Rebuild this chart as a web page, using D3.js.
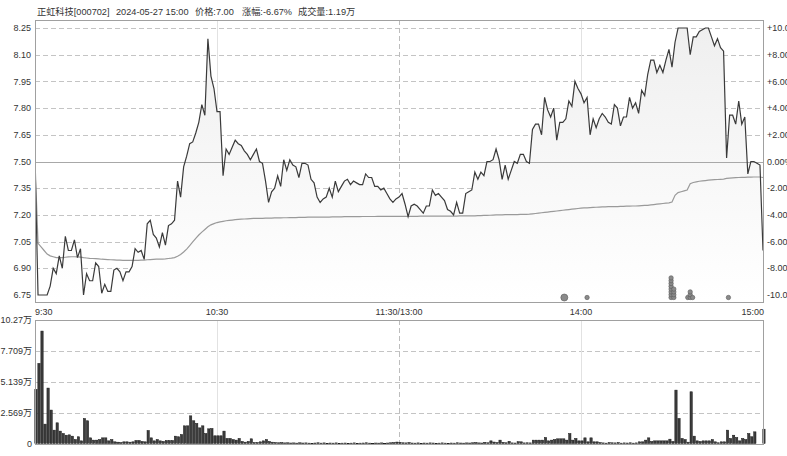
<!DOCTYPE html>
<html><head><meta charset="utf-8">
<script src="https://cdn.jsdelivr.net/npm/d3@7"></script>
<style>
body{margin:0;background:#fff}
svg{display:block}
text{font-family:"Liberation Sans",Arial,"Noto Sans CJK SC",sans-serif;font-size:9px;fill:#333}
text.title{font-size:9.2px}
</style>
</head><body><svg id="c" width="787" height="456"></svg>
<script>
const titleParts = ["正虹科技[000702]", "2024-05-27 15:00", "价格:7.00", "涨幅:-6.67%", "成交量:1.19万"];
const timeIdx = [0, 60, 120, 180, 240];
const timeLabels = ["9:30", "10:30", "11:30/13:00", "14:00", "15:00"];
const preClose = 7.50;
const priceTicks = [8.25, 8.10, 7.95, 7.80, 7.65, 7.50, 7.35, 7.20, 7.05, 6.90, 6.75];
const priceTickLabels = ["8.25", "8.10", "7.95", "7.80", "7.65", "7.50", "7.35", "7.20", "7.05", "6.90", "6.75"];
const pctTickLabels = ["+10.00%", "+8.00%", "+6.00%", "+4.00%", "+2.00%", "0.00%", "-2.00%", "-4.00%", "-6.00%", "-8.00%", "-10.00%"];
const volTicks = [0, 2.569, 5.139, 7.709, 10.27];
const volTickLabels = ["0", "2.569万", "5.139万", "7.709万", "10.27万"];

const price = [
7.50,6.75,6.75,6.75,6.75,6.80,6.90,6.87,6.97,6.90,
7.08,7.00,7.00,7.06,6.96,7.01,6.75,6.87,6.83,6.83,
6.93,6.91,6.76,6.81,6.77,6.77,6.89,6.90,6.88,6.83,
6.88,6.88,6.91,7.01,6.99,7.00,6.95,7.15,7.17,7.09,
7.07,7.02,7.10,7.03,7.14,7.15,7.17,7.39,7.30,7.47,
7.53,7.60,7.61,7.66,7.72,7.82,7.76,8.19,7.98,7.91,
7.78,7.78,7.42,7.57,7.54,7.58,7.62,7.60,7.59,7.56,
7.54,7.51,7.54,7.57,7.50,7.49,7.39,7.27,7.33,7.35,
7.42,7.36,7.51,7.45,7.51,7.48,7.47,7.41,7.49,7.49,
7.48,7.40,7.38,7.30,7.27,7.29,7.30,7.35,7.30,7.39,
7.33,7.36,7.39,7.40,7.37,7.39,7.38,7.37,7.37,7.43,
7.41,7.41,7.36,7.36,7.34,7.35,7.32,7.29,7.27,7.29,
7.30,7.32,7.26,7.19,7.25,7.26,7.25,7.23,7.21,7.25,
7.25,7.34,7.31,7.32,7.30,7.28,7.23,7.22,7.20,7.27,
7.21,7.21,7.32,7.33,7.34,7.44,7.40,7.44,7.42,7.50,
7.50,7.51,7.57,7.51,7.40,7.48,7.40,7.45,7.50,7.49,
7.54,7.54,7.50,7.49,7.68,7.71,7.71,7.65,7.86,7.79,
7.75,7.80,7.62,7.72,7.72,7.74,7.84,7.81,7.95,7.91,
7.88,7.83,7.86,7.65,7.74,7.69,7.74,7.77,7.75,7.72,
7.71,7.82,7.80,7.70,7.75,7.75,7.86,7.80,7.83,7.77,
7.90,7.87,7.99,8.07,8.07,8.00,8.04,8.00,8.07,8.13,
8.03,8.17,8.25,8.25,8.25,8.25,8.10,8.20,8.20,8.23,
8.24,8.25,8.25,8.20,8.15,8.19,8.14,8.12,7.52,7.76,
7.76,7.71,7.84,7.71,7.75,7.43,7.50,7.50,7.49,7.48,
7.00];

const avgPrice = [
7.50,7.04,7.02,7.00,6.98,6.97,6.965,6.96,6.96,6.96,
6.962,6.964,6.965,6.965,6.964,6.963,6.96,6.958,6.956,6.955,
6.954,6.953,6.951,6.95,6.949,6.948,6.947,6.946,6.946,6.945,
6.945,6.945,6.945,6.945,6.945,6.946,6.946,6.948,6.949,6.95,
6.951,6.951,6.952,6.953,6.955,6.957,6.96,6.968,6.978,6.992,
7.008,7.028,7.048,7.068,7.087,7.103,7.118,7.133,7.144,7.151,
7.157,7.161,7.164,7.167,7.169,7.171,7.173,7.175,7.176,7.177,
7.178,7.179,7.18,7.18,7.181,7.181,7.182,7.182,7.182,7.183,
7.183,7.183,7.184,7.184,7.185,7.185,7.185,7.186,7.186,7.186,
7.187,7.187,7.187,7.188,7.188,7.188,7.188,7.188,7.189,7.189,
7.189,7.189,7.19,7.19,7.19,7.19,7.19,7.19,7.191,7.191,
7.191,7.191,7.191,7.192,7.192,7.192,7.192,7.192,7.192,7.192,
7.192,7.192,7.192,7.192,7.192,7.192,7.192,7.193,7.193,7.193,
7.193,7.193,7.193,7.193,7.193,7.193,7.193,7.193,7.193,7.193,
7.194,7.194,7.194,7.195,7.195,7.195,7.196,7.196,7.197,7.197,
7.198,7.199,7.20,7.20,7.20,7.201,7.201,7.201,7.202,7.202,
7.203,7.203,7.203,7.204,7.206,7.208,7.21,7.212,7.214,7.216,
7.218,7.22,7.222,7.224,7.226,7.228,7.23,7.232,7.234,7.236,
7.238,7.239,7.24,7.241,7.242,7.243,7.244,7.245,7.245,7.246,
7.246,7.247,7.247,7.248,7.248,7.249,7.249,7.25,7.25,7.251,
7.252,7.253,7.254,7.256,7.258,7.26,7.262,7.264,7.266,7.268,
7.272,7.31,7.325,7.33,7.335,7.34,7.375,7.382,7.386,7.389,
7.391,7.393,7.395,7.397,7.398,7.399,7.40,7.401,7.405,7.407,
7.408,7.409,7.41,7.411,7.411,7.412,7.412,7.413,7.413,7.413,
7.41];

const volume = [
4.50,6.66,9.35,1.61,4.61,2.78,1.11,1.72,1.03,0.83,
0.69,0.72,0.61,0.33,0.56,0.22,2.08,1.89,0.47,0.28,
0.28,0.33,0.47,0.47,0.22,0.33,0.14,0.11,0.08,0.14,
0.14,0.11,0.14,0.25,0.25,0.17,0.14,1.08,0.47,0.22,
0.33,0.22,0.17,0.25,0.25,0.25,0.61,0.56,0.75,1.47,
1.47,2.30,1.89,1.67,1.30,1.47,0.83,1.22,1.25,0.64,
0.64,0.64,1.03,0.42,0.42,0.33,0.28,0.42,0.17,0.11,
0.17,0.39,0.08,0.08,0.14,0.22,0.33,0.17,0.11,0.08,
0.06,0.08,0.05,0.06,0.04,0.05,0.03,0.06,0.04,0.05,
0.03,0.02,0.04,0.06,0.03,0.05,0.02,0.04,0.03,0.05,
0.02,0.03,0.04,0.02,0.03,0.05,0.02,0.03,0.04,0.06,
0.03,0.02,0.04,0.03,0.05,0.02,0.04,0.06,0.08,0.12,
0.10,0.06,0.05,0.08,0.04,0.03,0.05,0.02,0.04,0.03,
0.05,0.04,0.02,0.03,0.05,0.03,0.02,0.04,0.03,0.06,
0.04,0.03,0.05,0.04,0.06,0.08,0.05,0.04,0.10,0.06,
0.22,0.12,0.08,0.28,0.10,0.06,0.18,0.05,0.04,0.15,
0.14,0.05,0.06,0.05,0.28,0.28,0.28,0.28,0.50,0.22,
0.28,0.33,0.39,0.39,0.39,0.28,0.83,0.28,0.42,0.22,
0.22,0.47,0.14,0.47,0.14,0.14,0.08,0.05,0.03,0.08,
0.06,0.05,0.08,0.03,0.05,0.04,0.06,0.03,0.05,0.14,
0.14,0.28,0.47,0.17,0.22,0.22,0.22,0.22,0.22,0.36,
0.17,4.44,2.08,0.42,0.33,0.11,4.30,0.61,0.22,0.17,
0.22,0.22,0.22,0.33,0.14,0.06,0.14,0.14,1.11,0.42,
0.69,0.50,0.22,0.42,0.33,0.83,0.56,0.97,0,0,
1.19];

// big-order markers: minute index, number stacked, large or small
const markerIdx = [174.5, 182, 209.7, 210.6, 215.2, 216, 216.8, 228.6];
const markerCount = [1, 1, 8, 4, 1, 3, 1, 1];
const markerBig = [true, false, false, false, false, false, false, false];

const svg = d3.select("#c");
const L = 35, R = 764;
const x = d3.scaleLinear().domain([0, 240]).range([L, 763]);
const y = d3.scaleLinear().domain([6.75, 8.25]).range([295, 28]);
const yv = d3.scaleLinear().domain([0, 10.27]).range([443.5, 320]);
const mainTop = 20, mainBot = 302, volTop = 320, volBot = 444;

const defs = svg.append("defs");
const g = defs.append("linearGradient").attr("id", "fillG")
  .attr("gradientUnits", "userSpaceOnUse").attr("x1", 0).attr("y1", 28).attr("x2", 0).attr("y2", 300);
g.append("stop").attr("offset", "0").attr("stop-color", "#efefef");
g.append("stop").attr("offset", "1").attr("stop-color", "#ffffff");
defs.append("clipPath").attr("id", "clipM").append("rect")
  .attr("x", L).attr("y", mainTop).attr("width", R - L).attr("height", mainBot - mainTop);

// title
const titleX = [37, 116, 195, 242, 298];
svg.append("g").selectAll("text").data(titleParts).join("text").attr("class", "title")
  .attr("x", (d, i) => titleX[i]).attr("y", 15).text(d => d);

// main grid
const grid = svg.append("g");
priceTicks.forEach(p => {
  if (p === preClose) return;
  grid.append("line").attr("x1", L).attr("x2", R).attr("y1", Math.round(y(p)) + 0.5).attr("y2", Math.round(y(p)) + 0.5)
    .attr("stroke", "#c4c4c4").attr("stroke-dasharray", "5,3");
});
function vlines(top, bot) {
  [60, 180].forEach(i => grid.append("line").attr("x1", Math.round(x(i)) + 0.5).attr("x2", Math.round(x(i)) + 0.5)
    .attr("y1", top).attr("y2", bot).attr("stroke", "#e2e2e2"));
  grid.append("line").attr("x1", Math.round(x(120)) + 0.5).attr("x2", Math.round(x(120)) + 0.5)
    .attr("y1", top).attr("y2", bot).attr("stroke", "#bdbdbd").attr("stroke-dasharray", "5,3");
}
vlines(mainTop, mainBot);

const idx = d3.range(price.length);
svg.append("path").datum(idx).attr("clip-path", "url(#clipM)")
  .attr("d", d3.area().x(i => x(i)).y0(mainBot).y1(i => y(price[i])))
  .attr("fill", "url(#fillG)");

svg.append("line").attr("x1", L).attr("x2", R).attr("y1", Math.round(y(preClose)) + 0.5).attr("y2", Math.round(y(preClose)) + 0.5)
  .attr("stroke", "#a8a8a8");

svg.append("path").datum(idx).attr("clip-path", "url(#clipM)")
  .attr("d", d3.line().x(i => x(i)).y(i => y(avgPrice[i])))
  .attr("fill", "none").attr("stroke", "#9a9a9a").attr("stroke-width", 1.2);
svg.append("path").datum(idx).attr("clip-path", "url(#clipM)")
  .attr("d", d3.line().x(i => x(i)).y(i => y(price[i])))
  .attr("fill", "none").attr("stroke", "#3a3a3a").attr("stroke-width", 1.2);

const mk = svg.append("g");
markerIdx.forEach((t, k) => {
  for (let j = 0; j < markerCount[k]; j++) {
    mk.append("circle").attr("cx", x(t)).attr("cy", 297.5 - j * 2.8)
      .attr("r", markerBig[k] ? 3.5 : 2.2)
      .attr("fill", "#8a8a8a").attr("stroke", "#5a5a5a").attr("stroke-width", 0.6);
  }
});

svg.append("rect").attr("x", L + 0.5).attr("y", mainTop + 0.5).attr("width", R - L - 1).attr("height", mainBot - mainTop)
  .attr("fill", "none").attr("stroke", "#a0a0a0");

svg.append("g").selectAll("text").data(priceTicks).join("text")
  .attr("x", 31).attr("y", d => y(d)).attr("dy", "0.35em").attr("text-anchor", "end")
  .text((d, i) => priceTickLabels[i]);
svg.append("g").selectAll("text").data(priceTicks).join("text")
  .attr("x", 767).attr("y", d => y(d)).attr("dy", "0.35em")
  .text((d, i) => pctTickLabels[i]);

svg.append("g").selectAll("text").data(timeIdx).join("text")
  .attr("x", (d, i) => i === 0 ? L : (i === timeIdx.length - 1 ? R : x(d)))
  .attr("y", 315)
  .attr("text-anchor", (d, i) => i === 0 ? "start" : (i === timeIdx.length - 1 ? "end" : "middle"))
  .text((d, i) => timeLabels[i]);

volTicks.forEach(v => {
  if (v === 0 || v === 10.27) return;
  grid.append("line").attr("x1", L).attr("x2", R).attr("y1", Math.round(yv(v)) + 0.5).attr("y2", Math.round(yv(v)) + 0.5)
    .attr("stroke", "#c4c4c4").attr("stroke-dasharray", "5,3");
});
vlines(volTop, volBot);

svg.append("g").selectAll("rect").data(idx.filter(i => volume[i] > 0)).join("rect")
  .attr("x", i => x(i) - 0.2).attr("width", 2.3)
  .attr("y", i => yv(volume[i])).attr("height", i => Math.max(0.6, yv(0) - yv(volume[i])))
  .attr("fill", "#3c3c3c").attr("stroke", "#161616").attr("stroke-width", 0.5);

svg.append("rect").attr("x", L + 0.5).attr("y", volTop + 0.5).attr("width", R - L - 1).attr("height", volBot - volTop)
  .attr("fill", "none").attr("stroke", "#a0a0a0");

svg.append("g").selectAll("text").data(volTicks).join("text")
  .attr("x", 32).attr("y", d => yv(d)).attr("dy", "0.35em").attr("text-anchor", "end")
  .text((d, i) => volTickLabels[i]);
</script>
</body></html>
